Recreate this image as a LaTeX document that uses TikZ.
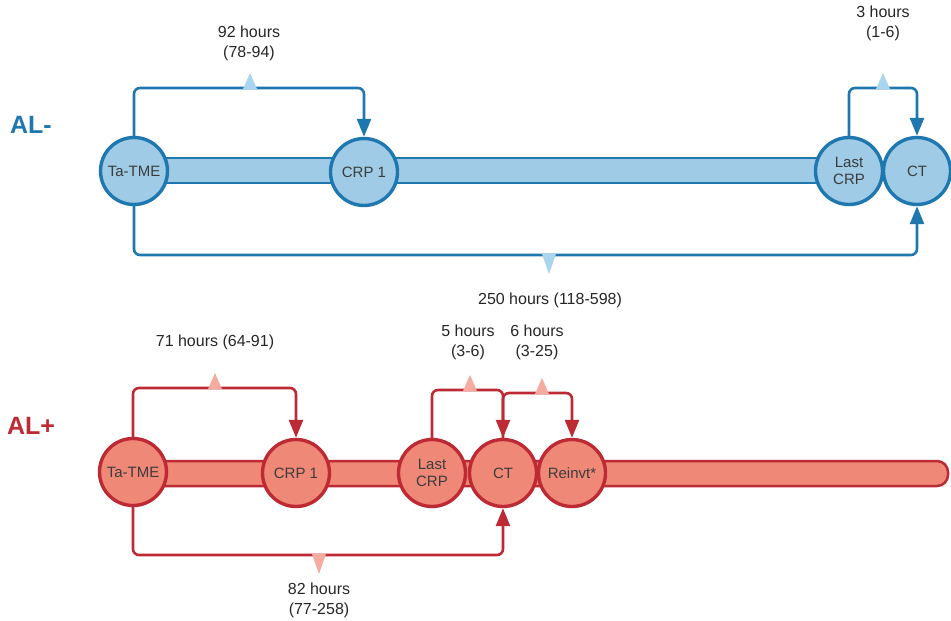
\documentclass[tikz,border=0pt]{standalone}
\usepackage{fontspec}
\setmainfont{Liberation Sans}
\usetikzlibrary{arrows.meta}

\definecolor{bfill}{HTML}{9FCBE6}
\definecolor{bline}{HTML}{1E78AF}
\definecolor{bmark}{HTML}{AAD5EE}
\definecolor{rfill}{HTML}{F08878}
\definecolor{rline}{HTML}{BE2A34}
\definecolor{rmark}{HTML}{F6AAA0}
\definecolor{txt}{HTML}{262626}

\tikzset{
  state/.style={circle, minimum size=67pt, inner sep=0pt, line width=3.4pt,
    align=center, font=\fontsize{15}{17.5}\selectfont, text=txt!90},
  bstate/.style={state, draw=bline, fill=bfill},
  rstate/.style={state, draw=rline, fill=rfill},
  bbar/.style={draw=bline, fill=bfill, line width=2.5pt},
  rbar/.style={draw=rline, fill=rfill, line width=2.5pt},
  conn/.style={line width=2.6pt, rounded corners=6pt,
    -{Triangle[width=14pt,length=18pt]}},
  bconn/.style={conn, draw=bline},
  rconn/.style={conn, draw=rline},
  lbl/.style={align=center, font=\fontsize{16}{20}\selectfont, text=txt},
  group/.style={font=\bfseries\fontsize{25}{28}\selectfont}
}

\begin{document}
\begin{tikzpicture}[x=1pt, y=-1pt]
\useasboundingbox (0,0) rectangle (951,621);

% ---------- AL- ----------
\node[group, text=bline] (alm) at (31,125) {AL-};
\filldraw[bbar] (134,158) rectangle (849,183);
\node[bstate] (bt) at (134,171) {Ta-TME};
\node[bstate] (bc1) at (364,172) {CRP 1};
\node[bstate] (bl) at (849,171) {Last\\CRP};
\node[bstate] (bct) at (917,171) {CT};

\coordinate (bm1) at (250,88);
\coordinate (bm2) at (883,88);
\coordinate (bm3) at (549,255);
\draw[bconn] (bt.north) |- (bm1) -| (bc1.north);
\draw[bconn] (bl.north) |- (bm2) -| (bct.north);
\draw[bconn] (bt.south) |- (bm3) -| (bct.south);
\fill[bmark] (bm1) ++(-7,1) -- ++(7,-16) -- ++(7,16) -- cycle;
\fill[bmark] (bm2) ++(-7,1) -- ++(7,-16) -- ++(7,16) -- cycle;
\fill[bmark] (bm3) ++(-7,-1) -- ++(7,20) -- ++(7,-20) -- cycle;

\node[lbl] (l92) at (249,43) {92 hours\\(78-94)};
\node[lbl] (l3) at (883,23.5) {3 hours\\(1-6)};
\node[lbl] (l250) at (550,300) {250 hours (118-598)};

% ---------- AL+ ----------
\node[group, text=rline] (alp) at (31,426) {AL+};
\filldraw[rbar, rounded corners=11pt] (133,461) rectangle (948,486);
\node[rstate] (rt) at (133,472) {Ta-TME};
\node[rstate] (rc1) at (296,473) {CRP 1};
\node[rstate] (rl) at (432,473) {Last\\CRP};
\node[rstate] (rct) at (503,473) {CT};
\node[rstate] (rr) at (572,473) {Reinvt*};

\coordinate (rm1) at (215,388);
\coordinate (rm2) at (470,390);
\coordinate (rm3) at (542,393);
\coordinate (rm4) at (319,555);
\draw[rconn] (rt.north) |- (rm1) -| (rc1.north);
\draw[rconn] (rl.north) |- (rm2) -| (rct.north);
\draw[rconn] (rct.north) |- (rm3) -| (rr.north);
\draw[rconn] (rt.south) |- (rm4) -| (rct.south);
\fill[rmark] (rm1) ++(-7,1) -- ++(7,-16) -- ++(7,16) -- cycle;
\fill[rmark] (rm2) ++(-7,1) -- ++(7,-16) -- ++(7,16) -- cycle;
\fill[rmark] (rm3) ++(-7,1) -- ++(7,-16) -- ++(7,16) -- cycle;
\fill[rmark] (rm4) ++(-7,-1) -- ++(7,20) -- ++(7,-20) -- cycle;

\node[lbl] (l71) at (215,342) {71 hours (64-91)};
\node[lbl] (l5) at (468,342) {5 hours\\(3-6)};
\node[lbl] (l6) at (537,342) {6 hours\\(3-25)};
\node[lbl] (l82) at (319,600) {82 hours\\(77-258)};
\end{tikzpicture}
\end{document}
